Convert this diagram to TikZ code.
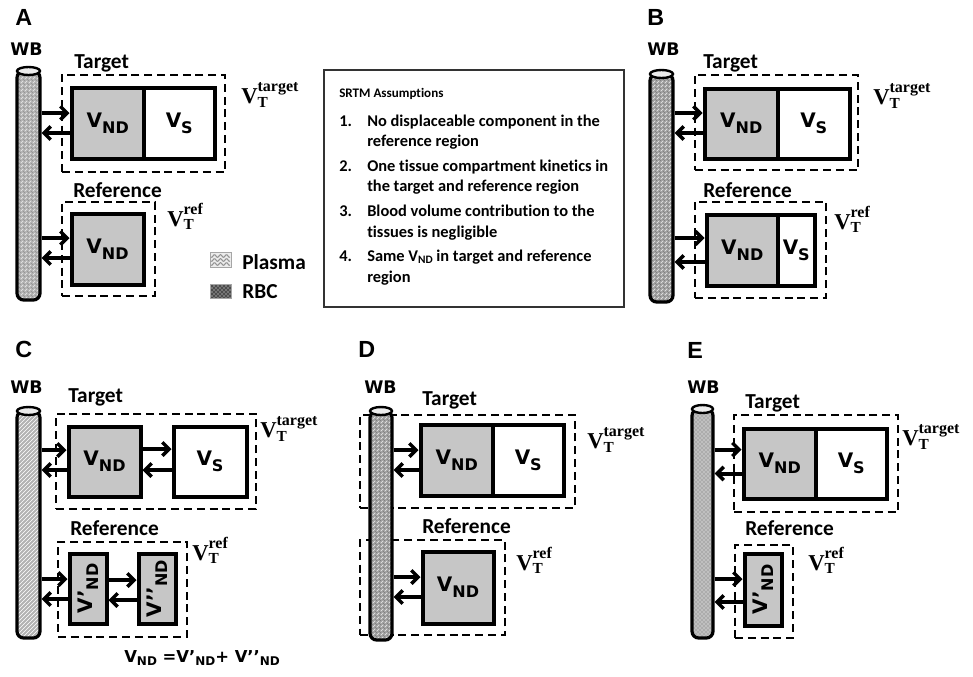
\documentclass[tikz,border=0pt]{standalone}
\usepackage{fontspec}
\newfontfamily\carl{Carlito}[Ligatures=NoCommon]
\newfontfamily\dvs{DejaVu Sans}
\newfontfamily\lsans{Liberation Sans}
\newfontfamily\lserif{Liberation Serif}
\usetikzlibrary{arrows.meta,patterns}
\newdimen\pxu \pxu=0.75pt
\newcommand\VB[2]{{\dvs\bfseries\fontsize{15}{15}\selectfont V#1\raisebox{-4.5pt}{\fontsize{12}{12}\selectfont #2}}}
\newcommand\VT[1]{$\mbox{\lserif\bfseries\fontsize{17}{17}\selectfont V}_{\mbox{\lserif\bfseries\fontsize{11.5}{11.5}\selectfont T}}^{\mbox{\lserif\bfseries\fontsize{12}{12}\selectfont #1}}$}
\newcommand\sbs[1]{\raisebox{-2.5pt}{\fontsize{9}{9}\selectfont #1}}
\newcommand\bx[7][]{%
  \pgfmathsetmacro\bxW{#5-#3}\pgfmathsetmacro\bxH{#6-#4}%
  \pgfmathsetmacro\bxX{(#3+#5)/2}\pgfmathsetmacro\bxY{(#4+#6)/2}%
  \node[#1, minimum width=\bxW\pxu, minimum height=\bxH\pxu] (#2) at (\bxX,\bxY) {#7};}
\newcommand\tube[6]{%
  \pgfmathsetmacro\tbW{#3-#2}\pgfmathsetmacro\tbH{#5-#4-4}%
  \pgfmathsetmacro\tbX{(#2+#3)/2}\pgfmathsetmacro\tbY{(#4+4+#5)/2}\pgfmathsetmacro\tbR{(#3-#2)/2}%
  \node[tubeb,#6, minimum width=\tbW\pxu, minimum height=\tbH\pxu] (#1) at (\tbX,\tbY) {};
  \draw[line width=1.8pt, fill=gray!15] (\tbX,#4+4) ellipse [x radius=\tbR, y radius=4];}
\newcommand\pair[5]{%
  \coordinate (#5a) at ([yshift=#3\pxu]#2.west);
  \coordinate (#5b) at ([yshift=#4\pxu]#2.west);
  \draw[arr] (#5a -| #1.east) -- (#5a);
  \draw[arr] (#5b) -- (#5b -| #1.east);}
\tikzset{
  dbox/.style={draw, line width=1.1pt, dash pattern=on 6pt off 3.6pt, inner sep=0pt},
  ndbox/.style={draw, line width=3pt, fill=gray!45, inner sep=0pt},
  sbox/.style={draw, line width=3pt, fill=white, inner sep=0pt},
  tubeb/.style={draw, line width=2.4pt, inner sep=0pt, rounded corners=5pt},
  tubeM/.style={preaction={fill=gray!60}, pattern=north east lines, pattern color=white!85!gray,
    postaction={pattern=dots, pattern color=black!85}},
  tubeD/.style={preaction={fill=gray!75}, pattern=north east lines, pattern color=white!85!gray,
    postaction={pattern=dots, pattern color=black}},
  tubeP/.style={preaction={fill=gray!60}, pattern=north east lines, pattern color=white},
  tubeR/.style={preaction={fill=gray!65}, pattern=crosshatch dots, pattern color=white},
  arr/.style={line width=3pt, -{Straight Barb[length=5pt,width=10pt,line width=2.6pt]}},
  lab/.style={font={\carl\bfseries\fontsize{16}{16}\selectfont}, inner sep=0pt, anchor=base west},
  pan/.style={font={\lsans\bfseries\fontsize{17.5}{17.5}\selectfont}, inner sep=0pt, anchor=base west},
  wb/.style={font={\dvs\bfseries\fontsize{13}{13}\selectfont}, inner sep=0pt, anchor=base west},
  vt/.style={inner sep=0pt, anchor=base west},
  srt/.style={font={\carl\bfseries\fontsize{12.3}{14}\selectfont}, inner sep=0pt, anchor=base west},
  srth/.style={font={\carl\bfseries\fontsize{9.8}{12}\selectfont}, inner sep=0pt, anchor=base west},
}
\begin{document}
\begin{tikzpicture}[x=0.75pt,y=-0.75pt]
\useasboundingbox[fill=white] (0,0) rectangle (973,676);
% ---------- dashed region boxes
\bx[dbox]{TA}{62}{75}{225}{172}{}
\bx[dbox]{RA}{62}{202}{155}{296}{}
\bx[dbox]{TB}{695}{75}{858}{170}{}
\bx[dbox]{RB}{695}{202}{826}{298}{}
\bx[dbox]{TC}{56}{414}{256}{509}{}
\bx[dbox]{RC}{58}{542}{187}{637}{}
\bx[dbox]{TD}{360}{415}{575}{508}{}
\bx[dbox]{RD}{360}{540}{505}{635}{}
\bx[dbox]{TE}{734}{415}{898}{512}{}
\bx[dbox]{RE}{735}{545}{793}{638}{}
% ---------- tubes
\tube{tA}{17}{40}{67}{300}{tubeM}
\tube{tB}{650}{673}{70}{302}{tubeD}
\tube{tC}{17}{40}{407}{638}{tubeP}
\tube{tD}{370}{392}{407}{640}{tubeD}
\tube{tE}{692}{713}{405}{638}{tubeR}
% ---------- compartments
\bx[ndbox]{A1}{71.5}{87.5}{144}{158.5}{\VB{}{ND}}
\bx[sbox]{A2}{144}{87.5}{214.5}{158.5}{\VB{}{S}}
\bx[ndbox]{A3}{71.5}{213.5}{143.5}{284.5}{\VB{}{ND}}
\bx[ndbox]{B1}{704.5}{88.5}{778}{158.5}{\VB{}{ND}}
\bx[sbox]{B2}{778}{88.5}{849.5}{158.5}{\VB{}{S}}
\bx[ndbox]{B3}{706.5}{214.5}{778}{285.5}{\VB{}{ND}}
\bx[sbox]{B4}{778}{214.5}{814.5}{285.5}{\VB{}{S}}
\bx[ndbox]{C1}{68.5}{426.5}{140.5}{496.5}{\VB{}{ND}}
\bx[sbox]{C2}{173.5}{426.5}{246.5}{496.5}{\VB{}{S}}
\bx[ndbox]{C3}{69.5}{553.5}{106.5}{623.5}{\rotatebox{90}{\VB{’}{ND}}}
\bx[ndbox]{C4}{138.5}{553.5}{175.5}{623.5}{\rotatebox{90}{\VB{’’}{ND}}}
\bx[ndbox]{D1}{420.5}{424.5}{493}{495.5}{\VB{}{ND}}
\bx[sbox]{D2}{493}{424.5}{563.5}{495.5}{\VB{}{S}}
\bx[ndbox]{D3}{422.5}{551.5}{493.5}{623.5}{\VB{}{ND}}
\bx[ndbox]{E1}{743.5}{428.5}{816}{498.5}{\VB{}{ND}}
\bx[sbox]{E2}{816}{428.5}{886.5}{498.5}{\VB{}{S}}
\bx[ndbox]{E3}{744.5}{553.5}{781.5}{625.5}{\rotatebox{90}{\VB{’}{ND}}}
% ---------- exchange arrows
\pair{tA}{A1}{10}{-10}{pa1}
\pair{tA}{A3}{11}{-9}{pa3}
\pair{tB}{B1}{10.5}{-9.5}{pb1}
\pair{tB}{B3}{12}{-12}{pb3}
\pair{tC}{C1}{11.5}{-8.5}{pc1}
\pair{C1}{C2}{12.5}{-8.5}{pc2}
\pair{tC}{C3}{9.5}{-10.5}{pc3}
\pair{C3}{C4}{8.5}{-11.5}{pc4}
\pair{tD}{D1}{10}{-10}{pd1}
\pair{tD}{D3}{10.5}{-9.5}{pd3}
\pair{tE}{E1}{14}{-10}{pe1}
\pair{tE}{E3}{10.5}{-12.5}{pe3}
% ---------- panel letters, WB, region labels, VT labels
\node[pan] (LA) at (15,25) {A};
\node[pan] (LB) at (647,25) {B};
\node[pan] (LC) at (15,357) {C};
\node[pan] (LD) at (358,357) {D};
\node[pan] (LE) at (687,358) {E};
\node[wb] (wA) at (10,55) {WB};
\node[wb] (wB) at (647,55) {WB};
\node[wb] (wC) at (10,393) {WB};
\node[wb] (wD) at (364,393) {WB};
\node[wb] (wE) at (687,393) {WB};
\node[lab] (gA) at (74,68) {Target};
\node[lab] (rA) at (73,197) {Reference};
\node[lab] (gB) at (703,68) {Target};
\node[lab] (rB) at (703,197) {Reference};
\node[lab] (gC) at (68,402) {Target};
\node[lab] (rC) at (70,535) {Reference};
\node[lab] (gD) at (422,405) {Target};
\node[lab] (rD) at (422,533) {Reference};
\node[lab] (gE) at (745,408) {Target};
\node[lab] (rE) at (745,535) {Reference};
\node[vt] (vA1) at (241,103) {\VT{target}};
\node[vt] (vA2) at (167,226) {\VT{ref}};
\node[vt] (vB1) at (873,104) {\VT{target}};
\node[vt] (vB2) at (834,229) {\VT{ref}};
\node[vt] (vC1) at (260,437) {\VT{target}};
\node[vt] (vC2) at (192,560) {\VT{ref}};
\node[vt] (vD1) at (587,448) {\VT{target}};
\node[vt] (vD2) at (516,570) {\VT{ref}};
\node[vt] (vE1) at (902,445) {\VT{target}};
\node[vt] (vE2) at (808,570) {\VT{ref}};
\node[inner sep=0pt, anchor=base west, font={\dvs\bfseries\fontsize{12.3}{12.3}\selectfont}] (form) at (124,662)
  {V\sbs{ND} =V’\sbs{ND}+ V’’\sbs{ND}};
% ---------- legend
\bx[draw=gray!70, line width=0.6pt, fill=gray!15, inner sep=0pt]{LP}{210}{252}{231}{267}{}
\foreach \yy in {256,260,264}
  \draw[gray!85, line width=0.8pt] plot[domain=211:230, samples=25] (\x, {\yy+1.3*sin(\x*60)});
\bx[draw=gray!70, line width=0.6pt, preaction={fill=black!70}, pattern=crosshatch dots, pattern color=white, inner sep=0pt]{LR}{210}{284}{231}{298}{}
\node[lab] (LPt) at (242,269) {Plasma};
\node[lab] (LRt) at (242,298) {RBC};
% ---------- SRTM box
\bx[draw=black!80, line width=0.8pt, inner sep=0pt]{SR}{324}{70}{624}{307}{}
\node[srth] (s0) at (339,97) {SRTM Assumptions};
\node[srt] (n1) at (339,126) {1.};
\node[srt] (s1a) at (367,126) {No displaceable component in the};
\node[srt] (s1b) at (367,146) {reference region};
\node[srt] (n2) at (339,171) {2.};
\node[srt] (s2a) at (367,171) {One tissue compartment kinetics in};
\node[srt] (s2b) at (367,191) {the target and reference region};
\node[srt] (n3) at (339,216) {3.};
\node[srt] (s3a) at (367,216) {Blood volume contribution to the};
\node[srt] (s3b) at (367,237) {tissues is negligible};
\node[srt] (n4) at (339,261) {4.};
\node[srt] (s4a) at (367,261) {Same V\raisebox{-2pt}{\fontsize{8.5}{8.5}\selectfont ND} in target and reference};
\node[srt] (s4b) at (367,282) {region};
\end{tikzpicture}
\end{document}
